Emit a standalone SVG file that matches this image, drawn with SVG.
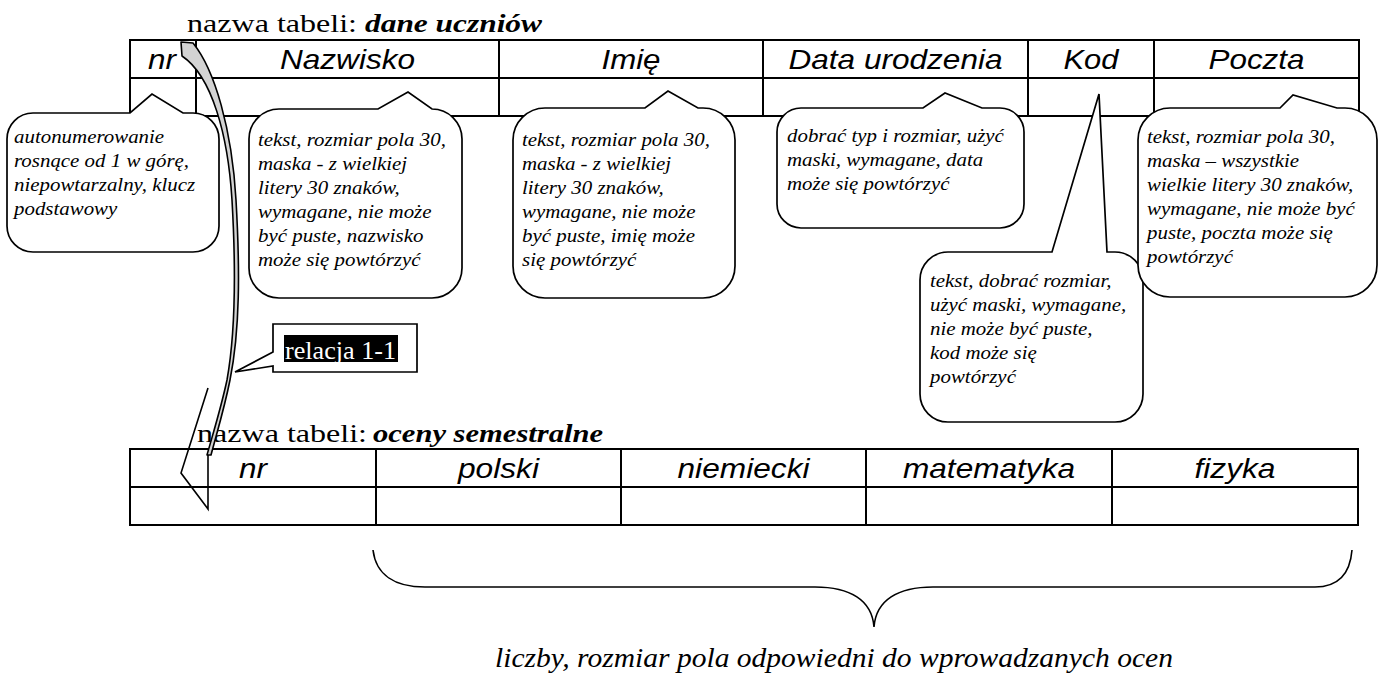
<svg xmlns="http://www.w3.org/2000/svg" width="1379" height="673" viewBox="0 0 1379 673">
<style>
.title{font-family:"Liberation Serif","Times New Roman",Times,serif;font-size:26px;fill:#000}
.bi{font-weight:bold;font-style:italic}
.hdr{font-family:"Liberation Sans",Arial,sans-serif;font-style:italic;font-size:28px;fill:#000;text-anchor:middle}
.tbl{fill:none;stroke:#000;stroke-width:2}
.call{fill:#fff;stroke:#000;stroke-width:1.7;stroke-linejoin:miter}
.note{font-family:"Liberation Serif","Times New Roman",Times,serif;font-style:italic;font-size:19px;fill:#000}
.line{fill:none;stroke:#000;stroke-width:1.6}
</style>
<rect width="1379" height="673" fill="#fff"/>

<g id="title-top">
<text class="title" x="187" y="32" textLength="170" lengthAdjust="spacingAndGlyphs">nazwa tabeli:</text>
<text class="title bi" x="365" y="32" textLength="177" lengthAdjust="spacingAndGlyphs">dane uczniów</text>
</g>

<g id="table-dane-uczniow">
<rect class="tbl" x="130" y="40" width="1229" height="76"/>
<path class="tbl" d="M130,78H1359M196,40V116M499,40V116M763,40V116M1028,40V116M1154,40V116"/>
<text class="hdr" x="162" y="69" textLength="28" lengthAdjust="spacingAndGlyphs">nr</text>
<text class="hdr" x="347.5" y="69" textLength="135" lengthAdjust="spacingAndGlyphs">Nazwisko</text>
<text class="hdr" x="631" y="69" textLength="59" lengthAdjust="spacingAndGlyphs">Imię</text>
<text class="hdr" x="895.5" y="69" textLength="214" lengthAdjust="spacingAndGlyphs">Data urodzenia</text>
<text class="hdr" x="1091" y="69" textLength="55" lengthAdjust="spacingAndGlyphs">Kod</text>
<text class="hdr" x="1256.5" y="69" textLength="96" lengthAdjust="spacingAndGlyphs">Poczta</text>
</g>

<g id="title-bottom">
<text class="title" x="197" y="442" textLength="170" lengthAdjust="spacingAndGlyphs">nazwa tabeli:</text>
<text class="title bi" x="373" y="442" textLength="230" lengthAdjust="spacingAndGlyphs">oceny semestralne</text>
</g>

<g id="table-oceny">
<rect class="tbl" x="130" y="449" width="1228" height="76"/>
<path class="tbl" d="M130,487H1358M376,449V525M621,449V525M866,449V525M1112,449V525"/>
<text class="hdr" x="253" y="478" textLength="28" lengthAdjust="spacingAndGlyphs">nr</text>
<text class="hdr" x="498.5" y="478" textLength="81" lengthAdjust="spacingAndGlyphs">polski</text>
<text class="hdr" x="743.5" y="478" textLength="132" lengthAdjust="spacingAndGlyphs">niemiecki</text>
<text class="hdr" x="989" y="478" textLength="172" lengthAdjust="spacingAndGlyphs">matematyka</text>
<text class="hdr" x="1235" y="478" textLength="81" lengthAdjust="spacingAndGlyphs">fizyka</text>
</g>

<g id="callout-nr">
<path class="call" d="M33,113 L130,113 L152,94 L183,113 L193,113 A26,26 0 0 1 219,139 L219,226 A26,26 0 0 1 193,252 L33,252 A26,26 0 0 1 7,226 L7,139 A26,26 0 0 1 33,113 Z"/>
<text class="note" transform="translate(14,143) scale(1.1,1)"><tspan x="0" y="0">autonumerowanie</tspan><tspan x="0" y="24">rosnące od 1 w górę,</tspan><tspan x="0" y="48">niepowtarzalny, klucz</tspan><tspan x="0" y="72">podstawowy</tspan></text>
</g>

<g id="callout-nazwisko">
<path class="call" d="M279,109 L378,109 L408,92 L432,109 A30,30 0 0 1 462,139 L462,268 A30,30 0 0 1 432,298 L279,298 A30,30 0 0 1 249,268 L249,139 A30,30 0 0 1 279,109 Z"/>
<text class="note" transform="translate(258,146) scale(1.1,1)"><tspan x="0" y="0">tekst, rozmiar pola 30,</tspan><tspan x="0" y="24">maska - z wielkiej</tspan><tspan x="0" y="48">litery 30 znaków,</tspan><tspan x="0" y="72">wymagane, nie może</tspan><tspan x="0" y="96">być puste, nazwisko</tspan><tspan x="0" y="120">może się powtórzyć</tspan></text>
</g>

<g id="callout-imie">
<path class="call" d="M545,108 L645,108 L668,91 L698,108 L703,108 A32,32 0 0 1 735,140 L735,266 A32,32 0 0 1 703,298 L545,298 A32,32 0 0 1 513,266 L513,140 A32,32 0 0 1 545,108 Z"/>
<text class="note" transform="translate(522,146) scale(1.1,1)"><tspan x="0" y="0">tekst, rozmiar pola 30,</tspan><tspan x="0" y="24">maska - z wielkiej</tspan><tspan x="0" y="48">litery 30 znaków,</tspan><tspan x="0" y="72">wymagane, nie może</tspan><tspan x="0" y="96">być puste, imię może</tspan><tspan x="0" y="120">się powtórzyć</tspan></text>
</g>

<g id="callout-data">
<path class="call" d="M801,108 L923,108 L945,93 L982,108 L1000,108 A24,24 0 0 1 1024,132 L1024,204 A24,24 0 0 1 1000,228 L801,228 A24,24 0 0 1 777,204 L777,132 A24,24 0 0 1 801,108 Z"/>
<text class="note" transform="translate(787,142) scale(1.1,1)"><tspan x="0" y="0">dobrać typ i rozmiar, użyć</tspan><tspan x="0" y="24">maski, wymagane, data</tspan><tspan x="0" y="48">może się powtórzyć</tspan></text>
</g>

<g id="callout-kod">
<path class="call" d="M948,252 L1052,252 L1099,94 L1107,252 L1115,252 A28,28 0 0 1 1143,280 L1143,394 A28,28 0 0 1 1115,422 L948,422 A28,28 0 0 1 920,394 L920,280 A28,28 0 0 1 948,252 Z"/>
<text class="note" transform="translate(930,287) scale(1.1,1)"><tspan x="0" y="0">tekst, dobrać rozmiar,</tspan><tspan x="0" y="24">użyć maski, wymagane,</tspan><tspan x="0" y="48">nie może być puste,</tspan><tspan x="0" y="72">kod może się</tspan><tspan x="0" y="96">powtórzyć</tspan></text>
</g>

<g id="callout-poczta">
<path class="call" d="M1170,108 L1280,108 L1293,95 L1337,108 L1345,108 A32,32 0 0 1 1377,140 L1377,265 A32,32 0 0 1 1345,297 L1170,297 A32,32 0 0 1 1138,265 L1138,140 A32,32 0 0 1 1170,108 Z"/>
<text class="note" transform="translate(1147,143) scale(1.1,1)"><tspan x="0" y="0">tekst, rozmiar pola 30,</tspan><tspan x="0" y="24">maska – wszystkie</tspan><tspan x="0" y="48">wielkie litery 30 znaków,</tspan><tspan x="0" y="72">wymagane, nie może być</tspan><tspan x="0" y="96">puste, poczta może się</tspan><tspan x="0" y="120">powtórzyć</tspan></text>
</g>

<g id="connectors">
<path id="relation-shaft" fill="#d3d3d3" stroke="#000" stroke-width="1.6" stroke-linejoin="round" d="M181,42 L193,43 C215,70 232,130 236,200 C240,270 240,330 230,380 C224,410 217,432 211,455 L207,455 C214,430 221,408 227,380 C236,330 236,270 232,200 C228,135 212,76 182,56 Z"/>
<path id="relation-head" class="line" stroke-linejoin="miter" d="M208,388 L181,473 L208,509 L208,455"/>
</g>

<g id="label-relacja">
<path class="call" stroke-width="1.6" d="M273,324 L417,324 L417,372 L273,372 L273,366 L235,372 L273,352 Z"/>
<rect x="284" y="335" width="114" height="27" fill="#000"/>
<text class="title" x="285" y="359" style="fill:#fff" textLength="111" lengthAdjust="spacingAndGlyphs">relacja 1-1</text>
</g>

<g id="brace-note">
<path class="line" d="M373,550 C376,575 395,587 425,587 L815,587 C850,587 872,600 874,627 C876,600 898,587 933,587 L1315,587 C1338,587 1350,575 1352,550"/>
<text class="note" x="495" y="667" style="font-size:28px" textLength="678" lengthAdjust="spacingAndGlyphs">liczby, rozmiar pola odpowiedni do wprowadzanych ocen</text>
</g>
</svg>
